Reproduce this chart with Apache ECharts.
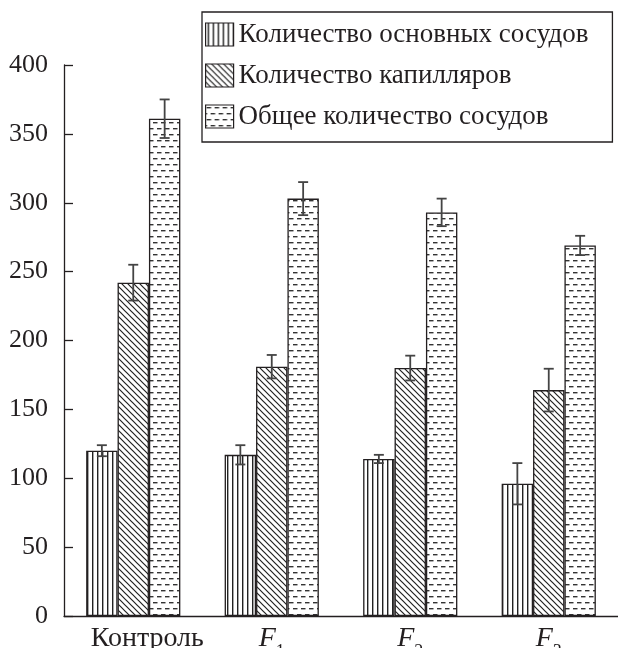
<!DOCTYPE html>
<html>
<head>
<meta charset="utf-8">
<script src="https://cdn.jsdelivr.net/npm/echarts@6/dist/echarts.min.js"></script>
<style>
  html, body { margin: 0; padding: 0; background: #fff; }
  #chart { width: 618px; height: 648px; }
</style>
</head>
<body>
<div id="chart"></div>
<script>
// Groups along the x axis
const categories = ['Контроль', 'F1', 'F2', 'F3'];

// Series names
const seriesNames = ['Количество основных сосудов', 'Количество капилляров', 'Общее количество сосудов'];

// Means and error half-widths per group
const mainVessels = [120, 117, 114, 96];
const mainVesselsErr = [4, 7, 3, 15];
const capillaries = [242, 181, 180, 164];
const capillariesErr = [13, 8.5, 9, 15.5];
const totalVessels = [361, 303, 293, 269];
const totalVesselsErr = [14, 12, 10, 7];

// Y axis ticks
const yTicks = [0, 50, 100, 150, 200, 250, 300, 350, 400];

const INK = '#231f20';
const FONT = '"Liberation Serif", "DejaVu Serif", serif';
const FS = 26;

// Fill patterns drawn on small canvases
function makeTile(w, h, draw) {
  const c = document.createElement('canvas');
  c.width = w; c.height = h;
  const ctx = c.getContext('2d');
  ctx.fillStyle = '#fff';
  ctx.fillRect(0, 0, w, h);
  draw(ctx, w, h);
  return { image: c, repeat: 'repeat' };
}

const vStripes = makeTile(5, 8, (ctx, w, h) => {
  ctx.fillStyle = '#222';
  ctx.fillRect(2, 0, 1.4, h);
});

const diagHatch = makeTile(6, 6, (ctx, w, h) => {
  ctx.strokeStyle = '#222';
  ctx.lineWidth = 1.2;
  ctx.beginPath();
  ctx.moveTo(-1, -1); ctx.lineTo(w + 1, h + 1);
  ctx.moveTo(w - 1, -1); ctx.lineTo(w + 1, 1);
  ctx.moveTo(-1, h - 1); ctx.lineTo(1, h + 1);
  ctx.stroke();
});

const dashes = makeTile(8, 12, (ctx, w, h) => {
  ctx.fillStyle = '#333';
  ctx.fillRect(1, 2, 4.5, 1.4);
  ctx.fillRect(5, 8, 3, 1.4);
  ctx.fillRect(0, 8, 1.5, 1.4);
});

const fills = [vStripes, diagHatch, dashes];
const values = [mainVessels, capillaries, totalVessels];
const errors = [mainVesselsErr, capillariesErr, totalVesselsErr];

const CATEGORY_GAP = 0.32;

const barSeries = seriesNames.map((name, i) => ({
  name: name,
  type: 'bar',
  data: values[i],
  barGap: '0%',
  barCategoryGap: (CATEGORY_GAP * 100) + '%',
  itemStyle: { color: fills[i], borderColor: INK, borderWidth: 1.3 },
  emphasis: { disabled: true },
  animation: false,
  z: 2
}));

// Error bars: vertical whisker with caps, centred on each bar
const errorSeries = seriesNames.map((name, i) => ({
  type: 'custom',
  name: name + ' err',
  data: values[i].map((v, k) => [k, v - errors[i][k], v + errors[i][k]]),
  renderItem: function (params, api) {
    const band = api.size([1, 0])[0];
    const bw = band * (1 - CATEGORY_GAP) / 3;
    const off = (i - 1) * bw;
    const lo = api.coord([api.value(0), api.value(1)]);
    const hi = api.coord([api.value(0), api.value(2)]);
    const x = lo[0] + off;
    const capHalf = 5;
    const style = { stroke: '#444', lineWidth: 1.8, fill: null };
    return {
      type: 'group',
      children: [
        { type: 'line', shape: { x1: x, y1: lo[1], x2: x, y2: hi[1] }, style: style },
        { type: 'line', shape: { x1: x - capHalf, y1: hi[1], x2: x + capHalf, y2: hi[1] }, style: style },
        { type: 'line', shape: { x1: x - capHalf, y1: lo[1], x2: x + capHalf, y2: lo[1] }, style: style }
      ]
    };
  },
  encode: { x: 0, y: [1, 2] },
  animation: false,
  silent: true,
  z: 5
}));

const chart = echarts.init(document.getElementById('chart'), null, { renderer: 'canvas' });

chart.setOption({
  backgroundColor: '#fff',
  animation: false,
  grid: { left: 64, right: 0, top: 65, bottom: 32, containLabel: false, outerBoundsMode: 'none' },
  legend: {
    orient: 'vertical',
    left: 202,
    top: 12,
    padding: [9, 24, 12, 3],
    itemWidth: 28,
    itemHeight: 23,
    itemGap: 14,
    borderColor: INK,
    borderWidth: 1.3,
    selectedMode: false,
    textStyle: { fontFamily: FONT, fontSize: 27, color: INK },
    data: seriesNames.map((n, i) => ({
      name: n,
      icon: 'rect',
      itemStyle: { color: fills[i], borderColor: INK, borderWidth: 1.2 }
    }))
  },
  xAxis: {
    type: 'category',
    data: categories,
    axisLine: { lineStyle: { color: INK, width: 1.3 } },
    axisTick: { inside: true, length: 8, lineStyle: { color: INK, width: 1.3 } },
    axisLabel: {
      interval: 0,
      margin: 9,
      color: INK,
      fontFamily: FONT,
      fontSize: 28,
      formatter: function (v) {
        if (v.charAt(0) === 'F') return '{i|F}{s|' + v.slice(1) + '}';
        return '{k|' + v + '}';
      },
      rich: {
        k: { fontFamily: FONT, fontSize: 28, color: INK, padding: [0, 0, 0, 28] },
        i: { fontFamily: FONT, fontSize: 28, fontStyle: 'italic', color: INK, verticalAlign: 'top', lineHeight: 28 },
        s: { fontFamily: FONT, fontSize: 18, color: INK, verticalAlign: 'bottom', lineHeight: 36 }
      }
    },
    splitLine: { show: false }
  },
  yAxis: {
    type: 'value',
    min: 0,
    max: 400,
    interval: 50,
    axisLine: { show: true, lineStyle: { color: INK, width: 1.3 } },
    axisTick: { show: true, inside: true, length: 9, lineStyle: { color: INK, width: 1.3 } },
    axisLabel: {
      margin: 16,
      color: INK,
      fontFamily: FONT,
      fontSize: FS,
      formatter: function (v) { return yTicks.indexOf(v) >= 0 ? String(v) : ''; }
    },
    splitLine: { show: false }
  },
  series: barSeries.concat(errorSeries)
});
</script>
</body>
</html>
